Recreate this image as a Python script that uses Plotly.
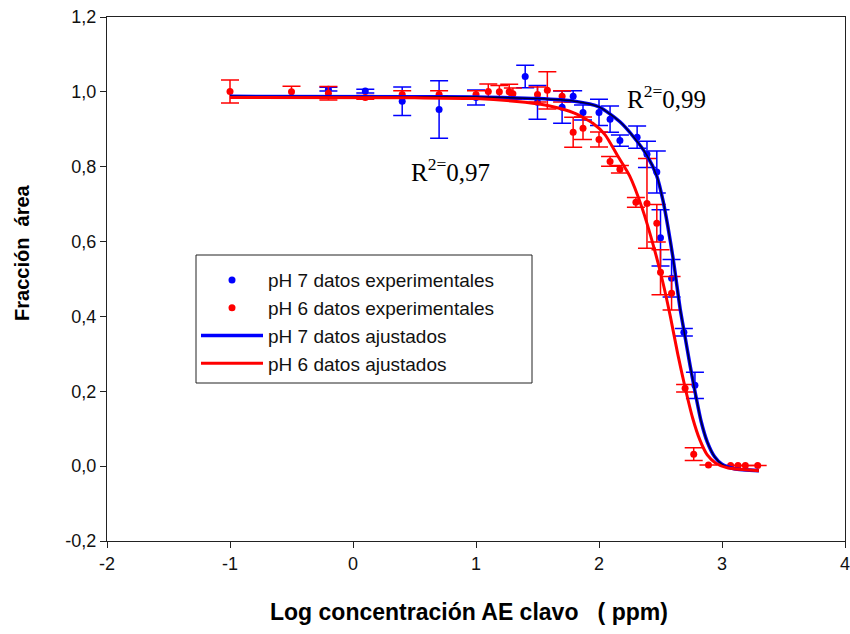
import plotly.graph_objects as go

# datos experimentales pH 7
x_ph7 = [-0.2, 0.1, 0.4, 0.7, 1.0, 1.4, 1.5, 1.7, 1.79, 1.87, 2.0, 2.09, 2.17, 2.31,
         2.39, 2.47, 2.5, 2.59, 2.69, 2.78]
y_ph7 = [1.007, 1.002, 0.975, 0.953, 0.985, 1.041, 0.972, 0.959, 0.988, 0.945, 0.945,
         0.927, 0.870, 0.879, 0.833, 0.786, 0.610, 0.502, 0.358, 0.216]
e_ph7 = [0.005, 0.005, 0.038, 0.077, 0.02, 0.03, 0.045, 0.043, 0.015, 0.02, 0.035,
         0.035, 0.015, 0.03, 0.035, 0.056, 0.075, 0.05, 0.01, 0.035]

# datos experimentales pH 6
x_ph6 = [-1.0, -0.5, -0.2, 0.1, 0.4, 0.7, 1.0, 1.1, 1.19, 1.27, 1.3, 1.5, 1.58, 1.7,
         1.79, 1.87, 2.0, 2.09, 2.17, 2.3, 2.39, 2.47, 2.5, 2.59, 2.7, 2.77, 2.89,
         3.07, 3.13, 3.19, 3.29]
y_ph6 = [1.001, 1.0, 0.996, 0.985, 0.993, 0.993, 0.993, 1.001, 1.0, 1.0, 0.995, 0.993,
         1.004, 0.988, 0.892, 0.903, 0.873, 0.814, 0.793, 0.705, 0.702, 0.649, 0.518,
         0.462, 0.208, 0.032, 0.003, 0.002, 0.002, 0.002, 0.002]
e_ph6 = [0.031, 0.015, 0.018, 0.005, 0.01, 0.01, 0.01, 0.02, 0.017, 0.02, 0.015, 0.02,
         0.05, 0.015, 0.04, 0.03, 0.02, 0.013, 0.01, 0.013, 0.12, 0.05, 0.06, 0.045,
         0.01, 0.017, 0.0, 0.0, 0.0, 0.0, 0.0]

# curvas ajustadas
xfit_ph7 = [-1.0, 0.5, 1.0, 1.5, 1.8, 2.0, 2.17, 2.28, 2.39, 2.47, 2.52, 2.56, 2.6,
            2.63, 2.66, 2.7, 2.74, 2.78, 2.83, 2.88, 2.94, 3.0, 3.1, 3.3]
yfit_ph7 = [0.988, 0.987, 0.986, 0.982, 0.975, 0.96, 0.92, 0.88, 0.83, 0.775, 0.71,
            0.64, 0.56, 0.49, 0.42, 0.345, 0.27, 0.20, 0.12, 0.065, 0.025, 0.005,
            -0.007, -0.012]
xfit_ph6 = [-1.0, 0.5, 1.0, 1.4, 1.6, 1.8, 1.95, 2.05, 2.15, 2.25, 2.35, 2.45, 2.52,
            2.58, 2.64, 2.7, 2.76, 2.82, 2.88, 2.95, 3.05, 3.3]
yfit_ph6 = [0.985, 0.984, 0.982, 0.972, 0.962, 0.943, 0.916, 0.885, 0.83, 0.775, 0.69,
            0.58, 0.49, 0.40, 0.30, 0.21, 0.13, 0.07, 0.03, 0.008, -0.005, -0.012]

x_ticks = [-2, -1, 0, 1, 2, 3, 4]
x_ticktext = ["-2", "-1", "0", "1", "2", "3", "4"]
y_ticks = [-0.2, 0.0, 0.2, 0.4, 0.6, 0.8, 1.0, 1.2]
y_ticktext = ["-0,2", "0,0", "0,2", "0,4", "0,6", "0,8", "1,0", "1,2"]

BLUE = "#0000ff"
RED = "#ff0000"

fig = go.Figure()

fig.add_trace(go.Scatter(
    x=x_ph7, y=y_ph7, mode="markers", name="pH 7 datos experimentales",
    marker=dict(color=BLUE, size=7),
    error_y=dict(type="data", array=e_ph7, color=BLUE, thickness=1.5, width=9),
))
fig.add_trace(go.Scatter(
    x=x_ph6, y=y_ph6, mode="markers", name="pH 6 datos experimentales",
    marker=dict(color=RED, size=7),
    error_y=dict(type="data", array=e_ph6, color=RED, thickness=1.5, width=9),
))
fig.add_trace(go.Scatter(
    x=xfit_ph7, y=yfit_ph7, mode="lines", name="pH 7 datos ajustados",
    line=dict(color=BLUE, width=3.5, shape="spline", smoothing=0.6),
))
fig.add_trace(go.Scatter(
    x=xfit_ph7, y=yfit_ph7, mode="lines", showlegend=False, hoverinfo="skip",
    line=dict(color="#000033", width=1.5, shape="spline", smoothing=0.6),
))
fig.add_trace(go.Scatter(
    x=xfit_ph6, y=yfit_ph6, mode="lines", name="pH 6 datos ajustados",
    line=dict(color=RED, width=3, shape="spline", smoothing=0.6),
))

axis_common = dict(
    showgrid=False, zeroline=False, showline=True, linecolor="#222222",
    linewidth=1, mirror=True, ticks="outside", ticklen=6, tickcolor="#222222",
    tickfont=dict(family="Liberation Sans, Arial", size=18, color="#111111"),
    ticklabeloverflow="allow", automargin=False,
)

fig.update_xaxes(range=[-2, 4], tickvals=x_ticks, ticktext=x_ticktext, **axis_common)
fig.update_yaxes(range=[-0.2, 1.2], tickvals=y_ticks, ticktext=y_ticktext, **axis_common)

fig.add_annotation(
    text="<b>Log concentración AE clavo \u00a0\u00a0( ppm)</b>", xref="paper", yref="paper",
    x=0.49, y=-0.135, xanchor="center", yanchor="middle", showarrow=False,
    font=dict(family="Liberation Sans, Arial", size=23, color="#000000"),
)
fig.add_annotation(
    text="<b>Fracción \u00a0área</b>", xref="paper", yref="paper",
    x=-0.115, y=0.55, xanchor="center", yanchor="middle", showarrow=False,
    textangle=-90, font=dict(family="Liberation Sans, Arial", size=20, color="#000000"),
)

r2_font = dict(family="Liberation Serif, Times New Roman", size=25, color="#000000")
fig.add_annotation(text="R<sup>2=</sup>0,97", x=0.455, y=0.79, xanchor="left",
                   yanchor="middle", showarrow=False, font=r2_font)
fig.add_annotation(text="R<sup>2=</sup>0,99", x=2.21, y=0.985, xanchor="left",
                   yanchor="middle", showarrow=False, font=r2_font)

# marco de la leyenda
fig.add_shape(type="rect", xref="paper", yref="paper",
              x0=0.1206, x1=0.5759, y0=0.3015, y1=0.5458,
              line=dict(color="#222222", width=1), fillcolor="white", layer="below")

fig.update_layout(
    width=850, height=634,
    margin=dict(l=107, r=5, t=17, b=93),
    paper_bgcolor="white", plot_bgcolor="white",
    showlegend=True,
    legend=dict(
        x=0.1206, y=0.534, xanchor="left", yanchor="top",
        bgcolor="rgba(0,0,0,0)", borderwidth=0,
        font=dict(family="Liberation Sans, Arial", size=19, color="#111111"),
        itemwidth=62, tracegroupgap=0,
    ),
)

fig.write_html("out.html", config={"displayModeBar": False},
               post_script="document.body.style.margin='0px';")
